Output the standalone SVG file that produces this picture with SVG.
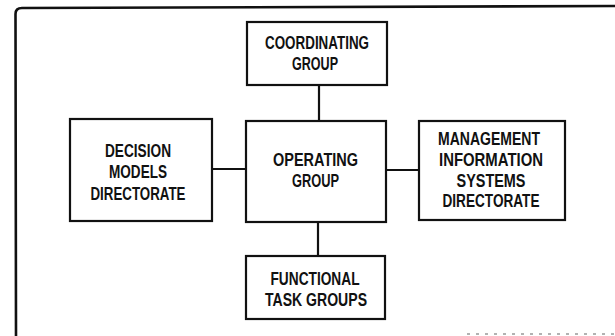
<svg xmlns="http://www.w3.org/2000/svg" width="615" height="336" viewBox="0 0 615 336">
<style>
.box{fill:#fff;stroke:#111;stroke-width:2.2}
.ln{fill:none;stroke:#111;stroke-width:2.2}
.frame{fill:none;stroke:#111;stroke-width:2.6}
.noise{fill:none;stroke:#999;stroke-width:1.5;stroke-dasharray:3 6}
text{font-family:"Liberation Sans","DejaVu Sans",sans-serif;font-size:19px;font-weight:bold;fill:#111;text-anchor:middle}
</style>
<rect width="615" height="336" fill="#fff"/>
<path class="frame" d="M16,337 L15.5,14 Q15.5,8 22,8 L616,6"/>
<path class="noise" d="M467,334 L615,334"/>
<g id="connectors">
<line class="ln" x1="319" y1="85" x2="319" y2="121"/>
<line class="ln" x1="212" y1="169" x2="246" y2="169"/>
<line class="ln" x1="386" y1="170" x2="419" y2="170"/>
<line class="ln" x1="318" y1="222" x2="318" y2="256"/>
</g>
<g id="coordinating">
<rect class="box" x="247" y="22" width="140" height="63"/>
<text x="317" y="49" textLength="104" lengthAdjust="spacingAndGlyphs">COORDINATING</text>
<text x="315" y="70" textLength="46" lengthAdjust="spacingAndGlyphs">GROUP</text>
</g>
<g id="decision">
<rect class="box" x="70" y="119" width="142" height="102"/>
<text x="138" y="157" textLength="66" lengthAdjust="spacingAndGlyphs">DECISION</text>
<text x="138" y="178" textLength="58" lengthAdjust="spacingAndGlyphs">MODELS</text>
<text x="138" y="200" textLength="95" lengthAdjust="spacingAndGlyphs">DIRECTORATE</text>
</g>
<g id="operating">
<rect class="box" x="246" y="121" width="140" height="101"/>
<text x="315.5" y="166" textLength="85" lengthAdjust="spacingAndGlyphs">OPERATING</text>
<text x="315.5" y="187" textLength="47" lengthAdjust="spacingAndGlyphs">GROUP</text>
</g>
<g id="mis">
<rect class="box" x="419" y="121" width="146" height="99"/>
<text x="489" y="145" textLength="102" lengthAdjust="spacingAndGlyphs">MANAGEMENT</text>
<text x="491" y="166" textLength="104" lengthAdjust="spacingAndGlyphs">INFORMATION</text>
<text x="491" y="187" textLength="69" lengthAdjust="spacingAndGlyphs">SYSTEMS</text>
<text x="491" y="207" textLength="97" lengthAdjust="spacingAndGlyphs">DIRECTORATE</text>
</g>
<g id="functional">
<rect class="box" x="246" y="256" width="139" height="63"/>
<text x="315" y="285" textLength="89" lengthAdjust="spacingAndGlyphs">FUNCTIONAL</text>
<text x="316" y="306" textLength="102" lengthAdjust="spacingAndGlyphs">TASK GROUPS</text>
</g>
</svg>
